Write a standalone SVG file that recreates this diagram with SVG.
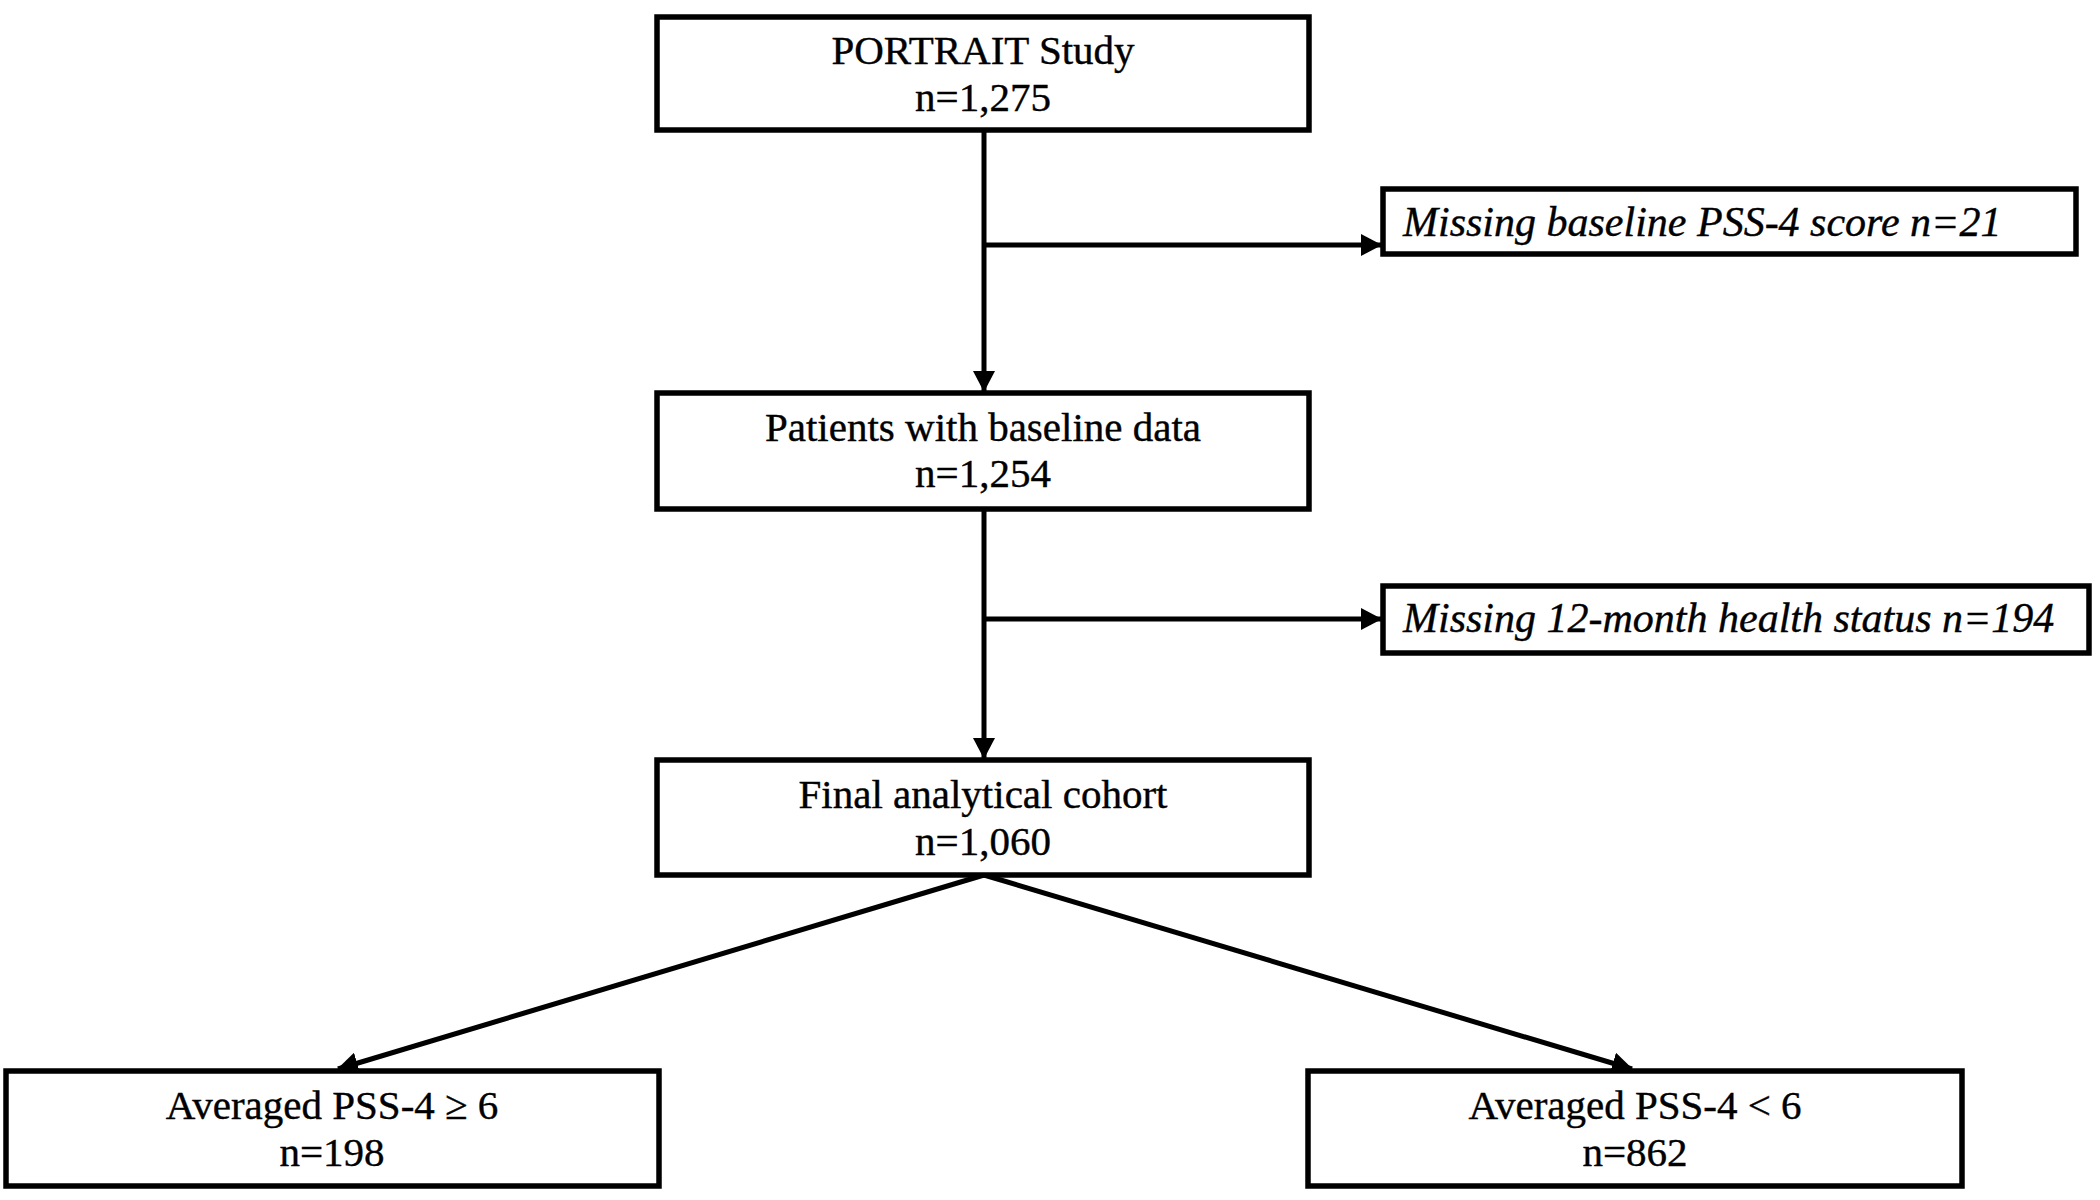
<svg xmlns="http://www.w3.org/2000/svg" width="2100" height="1200" viewBox="0 0 2100 1200">
<style>
.box{fill:#fff;stroke:#000;stroke-width:5.5}
.t{font-family:"Liberation Serif","Times New Roman",serif;font-size:41px;fill:#000;stroke:#000;stroke-width:0.4;text-anchor:middle}
.ti{font-family:"Liberation Serif","Times New Roman",serif;font-size:42px;font-style:italic;fill:#000;stroke:#000;stroke-width:0.4}
.c{stroke:#000;stroke-width:5;fill:none}
</style>
<defs>
<marker id="ah" markerUnits="userSpaceOnUse" markerWidth="22" markerHeight="22" refX="20" refY="11" orient="auto">
<path d="M0,0 L21,11 L0,22 z" fill="#000"/>
</marker>
</defs>
<rect width="2100" height="1200" fill="#fff"/>
<g id="connectors">
<line class="c" x1="984" y1="130" x2="984" y2="391" marker-end="url(#ah)"/>
<line class="c" x1="984" y1="245" x2="1381" y2="245" marker-end="url(#ah)"/>
<line class="c" x1="984" y1="509" x2="984" y2="758" marker-end="url(#ah)"/>
<line class="c" x1="984" y1="619" x2="1381" y2="619" marker-end="url(#ah)"/>
<line class="c" x1="984" y1="875" x2="338" y2="1069" marker-end="url(#ah)"/>
<line class="c" x1="984" y1="875" x2="1632" y2="1069" marker-end="url(#ah)"/>
</g>
<g id="portrait">
<rect class="box" x="657" y="17" width="652" height="113"/>
<text class="t" x="983" y="64">PORTRAIT Study</text>
<text class="t" x="983" y="111">n=1,275</text>
</g>
<g id="missing-baseline">
<rect class="box" x="1383" y="189" width="693" height="65"/>
<text class="ti" x="1403" y="236">Missing baseline PSS-4 score n=21</text>
</g>
<g id="baseline">
<rect class="box" x="657" y="393" width="652" height="116"/>
<text class="t" x="983" y="441">Patients with baseline data</text>
<text class="t" x="983" y="487">n=1,254</text>
</g>
<g id="missing-12m">
<rect class="box" x="1383" y="586" width="706" height="67"/>
<text class="ti" x="1403" y="632">Missing 12-month health status n=194</text>
</g>
<g id="final">
<rect class="box" x="657" y="760" width="652" height="115"/>
<text class="t" x="983" y="808">Final analytical cohort</text>
<text class="t" x="983" y="855">n=1,060</text>
</g>
<g id="high">
<rect class="box" x="6" y="1071" width="653" height="115"/>
<text class="t" x="332" y="1119">Averaged PSS-4 ≥ 6</text>
<text class="t" x="332" y="1166">n=198</text>
</g>
<g id="low">
<rect class="box" x="1308" y="1071" width="654" height="115"/>
<text class="t" x="1635" y="1119">Averaged PSS-4 &lt; 6</text>
<text class="t" x="1635" y="1166">n=862</text>
</g>
</svg>
